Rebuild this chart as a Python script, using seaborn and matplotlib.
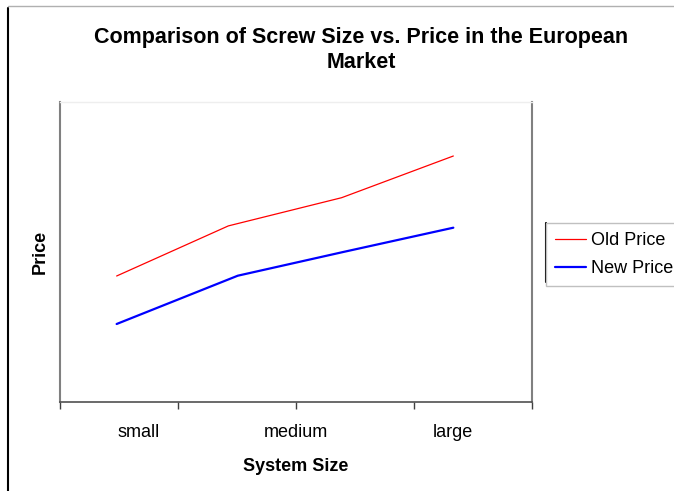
import pandas as pd
import matplotlib.pyplot as plt
import seaborn as sns
from matplotlib.lines import Line2D

# Data (y axis has no scale so arbitrary units 0-100)
sizes = ["small", "medium", "large"]
old_x = [0.36, 1.07, 1.79, 2.50]
old_price = [42, 58.7, 68.1, 82]
new_x = [0.36, 1.13, 1.80, 2.50]
new_price = [26, 42.1, 50, 58.1]

df_old = pd.DataFrame({"pos": old_x, "price": old_price, "series": "Old Price"})
df_new = pd.DataFrame({"pos": new_x, "price": new_price, "series": "New Price"})

sns.set_style("white")
plt.rcParams["font.family"] = ["Liberation Sans", "DejaVu Sans"]
plt.rcParams["text.color"] = "black"
plt.rcParams["axes.labelcolor"] = "black"
plt.rcParams["xtick.color"] = "black"

fig = plt.figure(figsize=(6.74, 4.91), dpi=100)
ax = fig.add_axes([60 / 674, 1 - 402 / 491, 472 / 674, 300 / 491])

sns.lineplot(data=df_old, x="pos", y="price", color="#ff0000", linewidth=0.9,
             label="Old Price", ax=ax, legend=False)
sns.lineplot(data=df_new, x="pos", y="price", color="#0000ff", linewidth=1.6,
             label="New Price", ax=ax, legend=False)

ax.set_xlim(0, 3)
ax.set_ylim(0, 100)
ax.set_yticks([])
ax.xaxis.remove_overlapping_locs = False
ax.set_xticks([0, 0.75, 1.5, 2.25, 3])
ax.set_xticklabels([])
ax.set_xticks([0.5, 1.5, 2.5], minor=True)
ax.set_xticklabels(sizes, minor=True)
ax.tick_params(axis="x", which="major", direction="out", length=5, width=1, color="#404040", bottom=True)
ax.tick_params(axis="x", which="minor", length=0, pad=16, labelsize=13, labelcolor="black")

ax.spines["left"].set_color("#808080")
ax.spines["left"].set_linewidth(1.5)
ax.spines["right"].set_color("#808080")
ax.spines["right"].set_linewidth(1.5)
ax.spines["top"].set_color("#eeeeee")
ax.spines["top"].set_linewidth(1)
ax.spines["bottom"].set_color("#505050")
ax.spines["bottom"].set_linewidth(1.2)

ax.set_xlabel("System Size", fontsize=13, fontweight="bold", labelpad=12)
ax.set_ylabel("Price", fontsize=13, fontweight="bold", labelpad=8)

fig.suptitle("Comparison of Screw Size vs. Price in the European\nMarket",
             x=361 / 674, y=1 - 27 / 491, fontsize=15.5, fontweight="bold",
             va="top", linespacing=1.25, color="black")

handles = [Line2D([], [], color="#ff0000", linewidth=0.9),
           Line2D([], [], color="#0000ff", linewidth=1.6)]
leg = fig.legend(handles, ["Old Price", "New Price"], loc="upper left",
                 bbox_to_anchor=(546 / 674, 1 - 223 / 491), fontsize=13,
                 handlelength=1.7, handletextpad=0.3, borderpad=0.5,
                 labelspacing=0.6, borderaxespad=0, fancybox=False,
                 frameon=True, edgecolor="#c0c0c0", framealpha=1)
leg.get_frame().set_linewidth(1)
for t in leg.get_texts():
    t.set_color("black")

# chart-area border pieces and the legend's dark left edge
fig.add_artist(Line2D([8 / 674, 8 / 674], [0, 1 - 8 / 491], color="black",
                      linewidth=1.5, transform=fig.transFigure))
fig.add_artist(Line2D([8 / 674, 1], [1 - 6 / 491, 1 - 6 / 491], color="#b0b0b0",
                      linewidth=1, transform=fig.transFigure))
fig.add_artist(Line2D([546 / 674, 546 / 674], [1 - 223 / 491, 1 - 282 / 491], color="black",
                      linewidth=1.5, transform=fig.transFigure))

fig.savefig("out.png", dpi=100)
